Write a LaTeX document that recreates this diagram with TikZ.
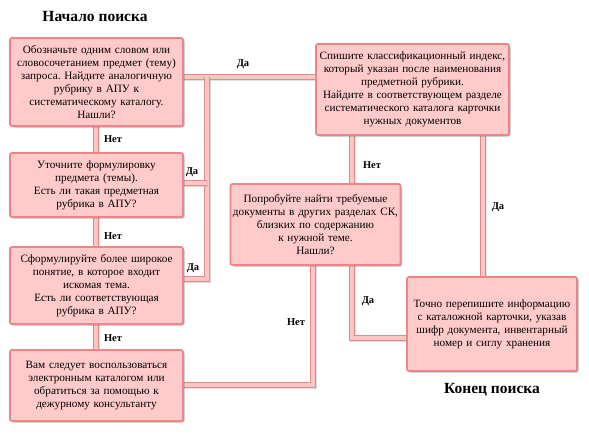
\documentclass[tikz,border=0pt]{standalone}
\usepackage{fontspec}
\setmainfont{Liberation Serif}
\frenchspacing
\usetikzlibrary{shadows,calc}
\definecolor{boxfill}{HTML}{FFCACA}
\definecolor{boxedge}{HTML}{EC8585}
\definecolor{linefill}{HTML}{FFC6C6}
\definecolor{lineedge}{HTML}{E08A8A}
\begin{document}
\begin{tikzpicture}[x=1pt,y=-1pt,
  stepbox/.style={draw=boxedge, line width=1.8pt, fill=boxfill, rounded corners=2pt,
    inner sep=2pt, align=center, text width=#1, font=\fontsize{11.2}{13}\selectfont,
    drop shadow={shadow xshift=1.5pt, shadow yshift=-1.5pt, opacity=0.45, fill=black!60}},
  conn/.style={draw=lineedge, line width=1.3pt, double=linefill, double distance=3.6pt,
    preaction={draw=black!35, line width=6pt, opacity=0.35, transform canvas={xshift=1pt,yshift=-1pt}}},
  lbl/.style={font=\bfseries\fontsize{10.5}{12}\selectfont, inner sep=1pt, fill=white},
  ttl/.style={font=\bfseries\fontsize{15.5}{18}\selectfont}]
\useasboundingbox (0,0) rectangle (589,434);
\fill[white] (0,0) rectangle (589,434);

\node[ttl] (t1) at (95,16) {Начало поиска};
\node[ttl] (t2) at (492,390) {Конец поиска};

% connectors (drawn first)
\coordinate (j1) at (207,77);
\coordinate (b1r) at (183,77);
\coordinate (r1l) at (316,77);
\coordinate (b2r) at (183,183);
\coordinate (j2) at (207,183);
\coordinate (b3r) at (183,279);
\coordinate (b1s) at (96,126);
\coordinate (b2n) at (96,153);
\coordinate (b2s) at (96,217);
\coordinate (b3n) at (96,247);
\coordinate (b3s) at (96,324);
\coordinate (b4n) at (96,350);
\coordinate (r1sa) at (352,135);
\coordinate (mna) at (352,184);
\coordinate (r1sb) at (483,135);
\coordinate (brn) at (483,277);
\coordinate (msa) at (352,265);
\coordinate (brw) at (407,338);
\coordinate (b4r) at (183,385);
\coordinate (msb) at (313,265);

\draw[conn] (b1r) -- (r1l);
\draw[conn] (b3r) -| (j1);
\draw[conn] (b2r) -- (j2);
\draw[conn] (b1s) -- (b2n);
\draw[conn] (b2s) -- (b3n);
\draw[conn] (b3s) -- (b4n);
\draw[conn] (r1sa) -- (mna);
\draw[conn] (r1sb) -- (brn);
\draw[conn] (msa) |- (brw);
\draw[conn] (b4r) -| (msb);

% boxes
\node[stepbox=168pt, minimum width=173pt, minimum height=88pt] (b1) at (96.5,82)
  {Обозначьте одним словом или\\ словосочетанием предмет (тему)\\ запроса. Найдите аналогичную\\ рубрику в АПУ к\\ систематическому каталогу.\\ Нашли?};
\node[stepbox=168pt, minimum width=173pt, minimum height=64pt] (b2) at (96.5,185)
  {Уточните формулировку\\ предмета (темы).\\ Есть ли такая предметная\\ рубрика в АПУ?};
\node[stepbox=168pt, minimum width=173pt, minimum height=77pt] (b3) at (96.5,285.5)
  {Сформулируйте более широкое\\ понятие, в которое входит\\ искомая тема.\\ Есть ли соответствующая\\ рубрика в АПУ?};
\node[stepbox=168pt, minimum width=173pt, minimum height=71pt] (b4) at (96.5,385.5)
  {Вам следует воспользоваться\\ электронным каталогом или\\ обратиться за помощью к\\ дежурному консультанту\\[4pt]};
\node[stepbox=188pt, minimum width=193pt, minimum height=91pt] (r1) at (412.5,89.5)
  {Спишите классификационный индекс,\\ который указан после наименования\\ предметной рубрики.\\ Найдите в соответствующем разделе\\ систематического каталога карточки\\ нужных документов};
\node[stepbox=166pt, minimum width=169pt, minimum height=81pt] (m) at (315.5,224.5)
  {Попробуйте найти требуемые\\ документы в других разделах СК,\\ близких по содержанию\\ к нужной теме.\\ Нашли?\\[3pt]};
\node[stepbox=165pt, minimum width=170pt, minimum height=94pt] (br) at (492,324)
  {Точно перепишите информацию\\ с каталожной карточки, указав\\ шифр документа, инвентарный\\ номер и сиглу хранения\\[8pt]};

% labels
\node[lbl] (l1) at (243,64) {Да};
\node[lbl] (l2) at (192,172) {Да};
\node[lbl] (l3) at (193,268) {Да};
\node[lbl] (l4) at (113,139) {Нет};
\node[lbl] (l5) at (113,236) {Нет};
\node[lbl] (l6) at (113,338) {Нет};
\node[lbl] (l7) at (372,165) {Нет};
\node[lbl] (l8) at (498,207) {Да};
\node[lbl] (l9) at (368,301) {Да};
\node[lbl] (l10) at (296,322) {Нет};
\end{tikzpicture}
\end{document}
